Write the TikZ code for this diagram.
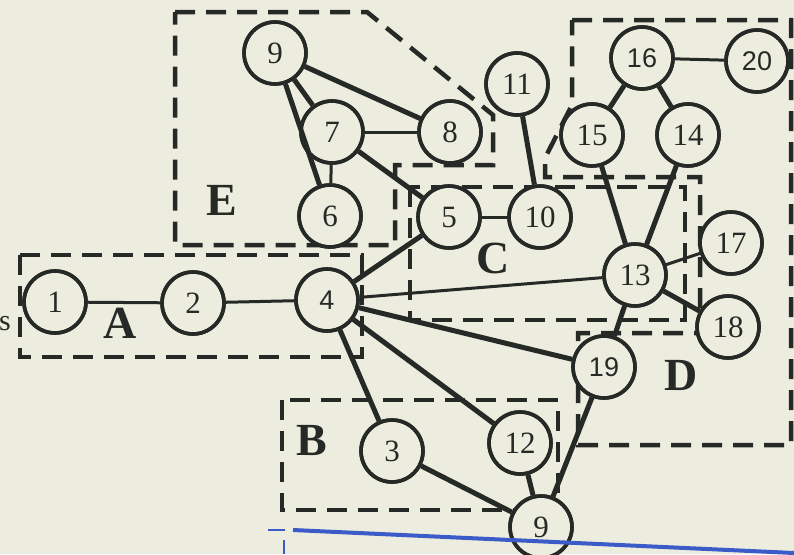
\documentclass[tikz,border=0pt]{standalone}
\usepackage{fontspec}
\setmainfont{Liberation Serif}
\newfontfamily\sansnum{Liberation Sans}
\definecolor{paper}{HTML}{ECEDDF}
\definecolor{ink}{HTML}{262A26}
\definecolor{stampblue}{HTML}{3A5BC8}
\tikzset{
  vertex/.style={circle, draw=ink, fill=paper, line width=3.6pt, minimum size=62pt,
    inner sep=0pt, text=ink, font=\fontsize{31}{33}\selectfont},
  svertex/.style={vertex, font=\sansnum\fontsize{27}{29}\selectfont},
  heavy/.style={draw=ink, line width=5pt},
  light/.style={draw=ink, line width=3pt},
  region/.style={draw=ink, line width=4.5pt, dash pattern=on 20pt off 11pt, line join=miter},
  tag/.style={text=ink, font=\fontsize{46}{50}\selectfont\bfseries}
}
\begin{document}
\begin{tikzpicture}[x=1pt,y=-1pt]
  \fill[paper] (0,0) rectangle (794,554);
  \useasboundingbox (0,0) rectangle (794,554);

  % dashed region outlines
  \draw[region] (20,255) rectangle (362,357);                 % A
  \draw[region] (282,400) rectangle (558,510);                % B
  \draw[region] (410,187) rectangle (685,320);                % C
  \draw[region] (175,12) -- (367,12) -- (493,115) -- (493,165)
                -- (395,165) -- (395,245) -- (175,245) -- cycle;  % E
  \draw[region] (572,20) -- (791,20) -- (791,445) -- (578,445) -- (578,333)
                -- (700,333) -- (700,177) -- (545,177) -- (545,158)
                -- (572,105) -- cycle;                            % D and upper part

  % vertices
  \node[vertex]  (n1)  at (55,302)  {1};
  \node[vertex]  (n2)  at (193,303) {2};
  \node[svertex] (n4)  at (327,300) {4};
  \node[vertex]  (n9a) at (275,53)  {9};
  \node[vertex]  (n7)  at (332,132) {7};
  \node[vertex]  (n8)  at (450,132) {8};
  \node[vertex]  (n6)  at (330,216) {6};
  \node[vertex]  (n5)  at (449,217) {5};
  \node[vertex]  (n10) at (540,217) {10};
  \node[vertex]  (n11) at (517,84)  {11};
  \node[svertex] (n16) at (642,58)  {16};
  \node[svertex] (n20) at (757,61)  {20};
  \node[vertex]  (n15) at (592,135) {15};
  \node[vertex]  (n14) at (688,135) {14};
  \node[vertex]  (n13) at (635,275) {13};
  \node[vertex]  (n17) at (731,243) {17};
  \node[vertex]  (n18) at (728,327) {18};
  \node[svertex] (n19) at (604,367) {19};
  \node[vertex]  (n12) at (520,443) {12};
  \node[vertex]  (n3)  at (392,451) {3};
  \node[vertex]  (n9b) at (541,527) {9};

  % connectors
  \draw[light] (n1) -- (n2);
  \draw[light] (n2) -- (n4);
  \draw[heavy] (n4) -- (n5);
  \draw[light] (n4) -- (n13);
  \draw[heavy] (n4) -- (n19);
  \draw[heavy] (n4) -- (n12);
  \draw[heavy] (n4) -- (n3);
  \draw[heavy] (n3) -- (n9b);
  \draw[heavy] (n12) -- (n9b);
  \draw[heavy] (n19) -- (n9b);
  \draw[heavy] (n9a) -- (n7);
  \draw[heavy] (n9a) -- (n8);
  \draw[heavy] (n9a) -- (n6);
  \draw[light] (n7) -- (n8);
  \draw[light] (n7) -- (n6);
  \draw[heavy] (n7) -- (n5);
  \draw[light] (n5) -- (n10);
  \draw[heavy] (n11) -- (n10);
  \draw[light] (n16) -- (n20);
  \draw[heavy] (n16) -- (n15);
  \draw[heavy] (n16) -- (n14);
  \draw[heavy] (n15) -- (n13);
  \draw[heavy] (n14) -- (n13);
  \draw[light] (n13) -- (n17);
  \draw[heavy] (n13) -- (n18);
  \draw[heavy] (n13) -- (n19);

  % redraw vertex rims above the connectors
  \foreach \v in {n1,n2,n4,n9a,n7,n8,n6,n5,n10,n11,n16,n20,n15,n14,n13,n17,n18,n19,n12,n3,n9b}
    \draw[ink, line width=3.6pt] (\v) circle (31pt);

  % region letters
  \node[tag] (la) at (120,323) {A};
  \node[tag] (lb) at (312,440) {B};
  \node[tag] (lc) at (493,258) {C};
  \node[tag] (ld) at (681,375) {D};
  \node[tag] (le) at (222,200) {E};
  \node[text=ink, font=\fontsize{30}{32}\selectfont] (ls) at (5,324) {s};

  % blue stamp edge along the bottom
  \draw[stampblue, line width=4pt] (293,530) -- (794,553);
  \draw[stampblue, line width=2.5pt] (268,530) -- (285,530);
  \draw[stampblue, line width=2.5pt] (284,540) -- (284,554);
\end{tikzpicture}
\end{document}
